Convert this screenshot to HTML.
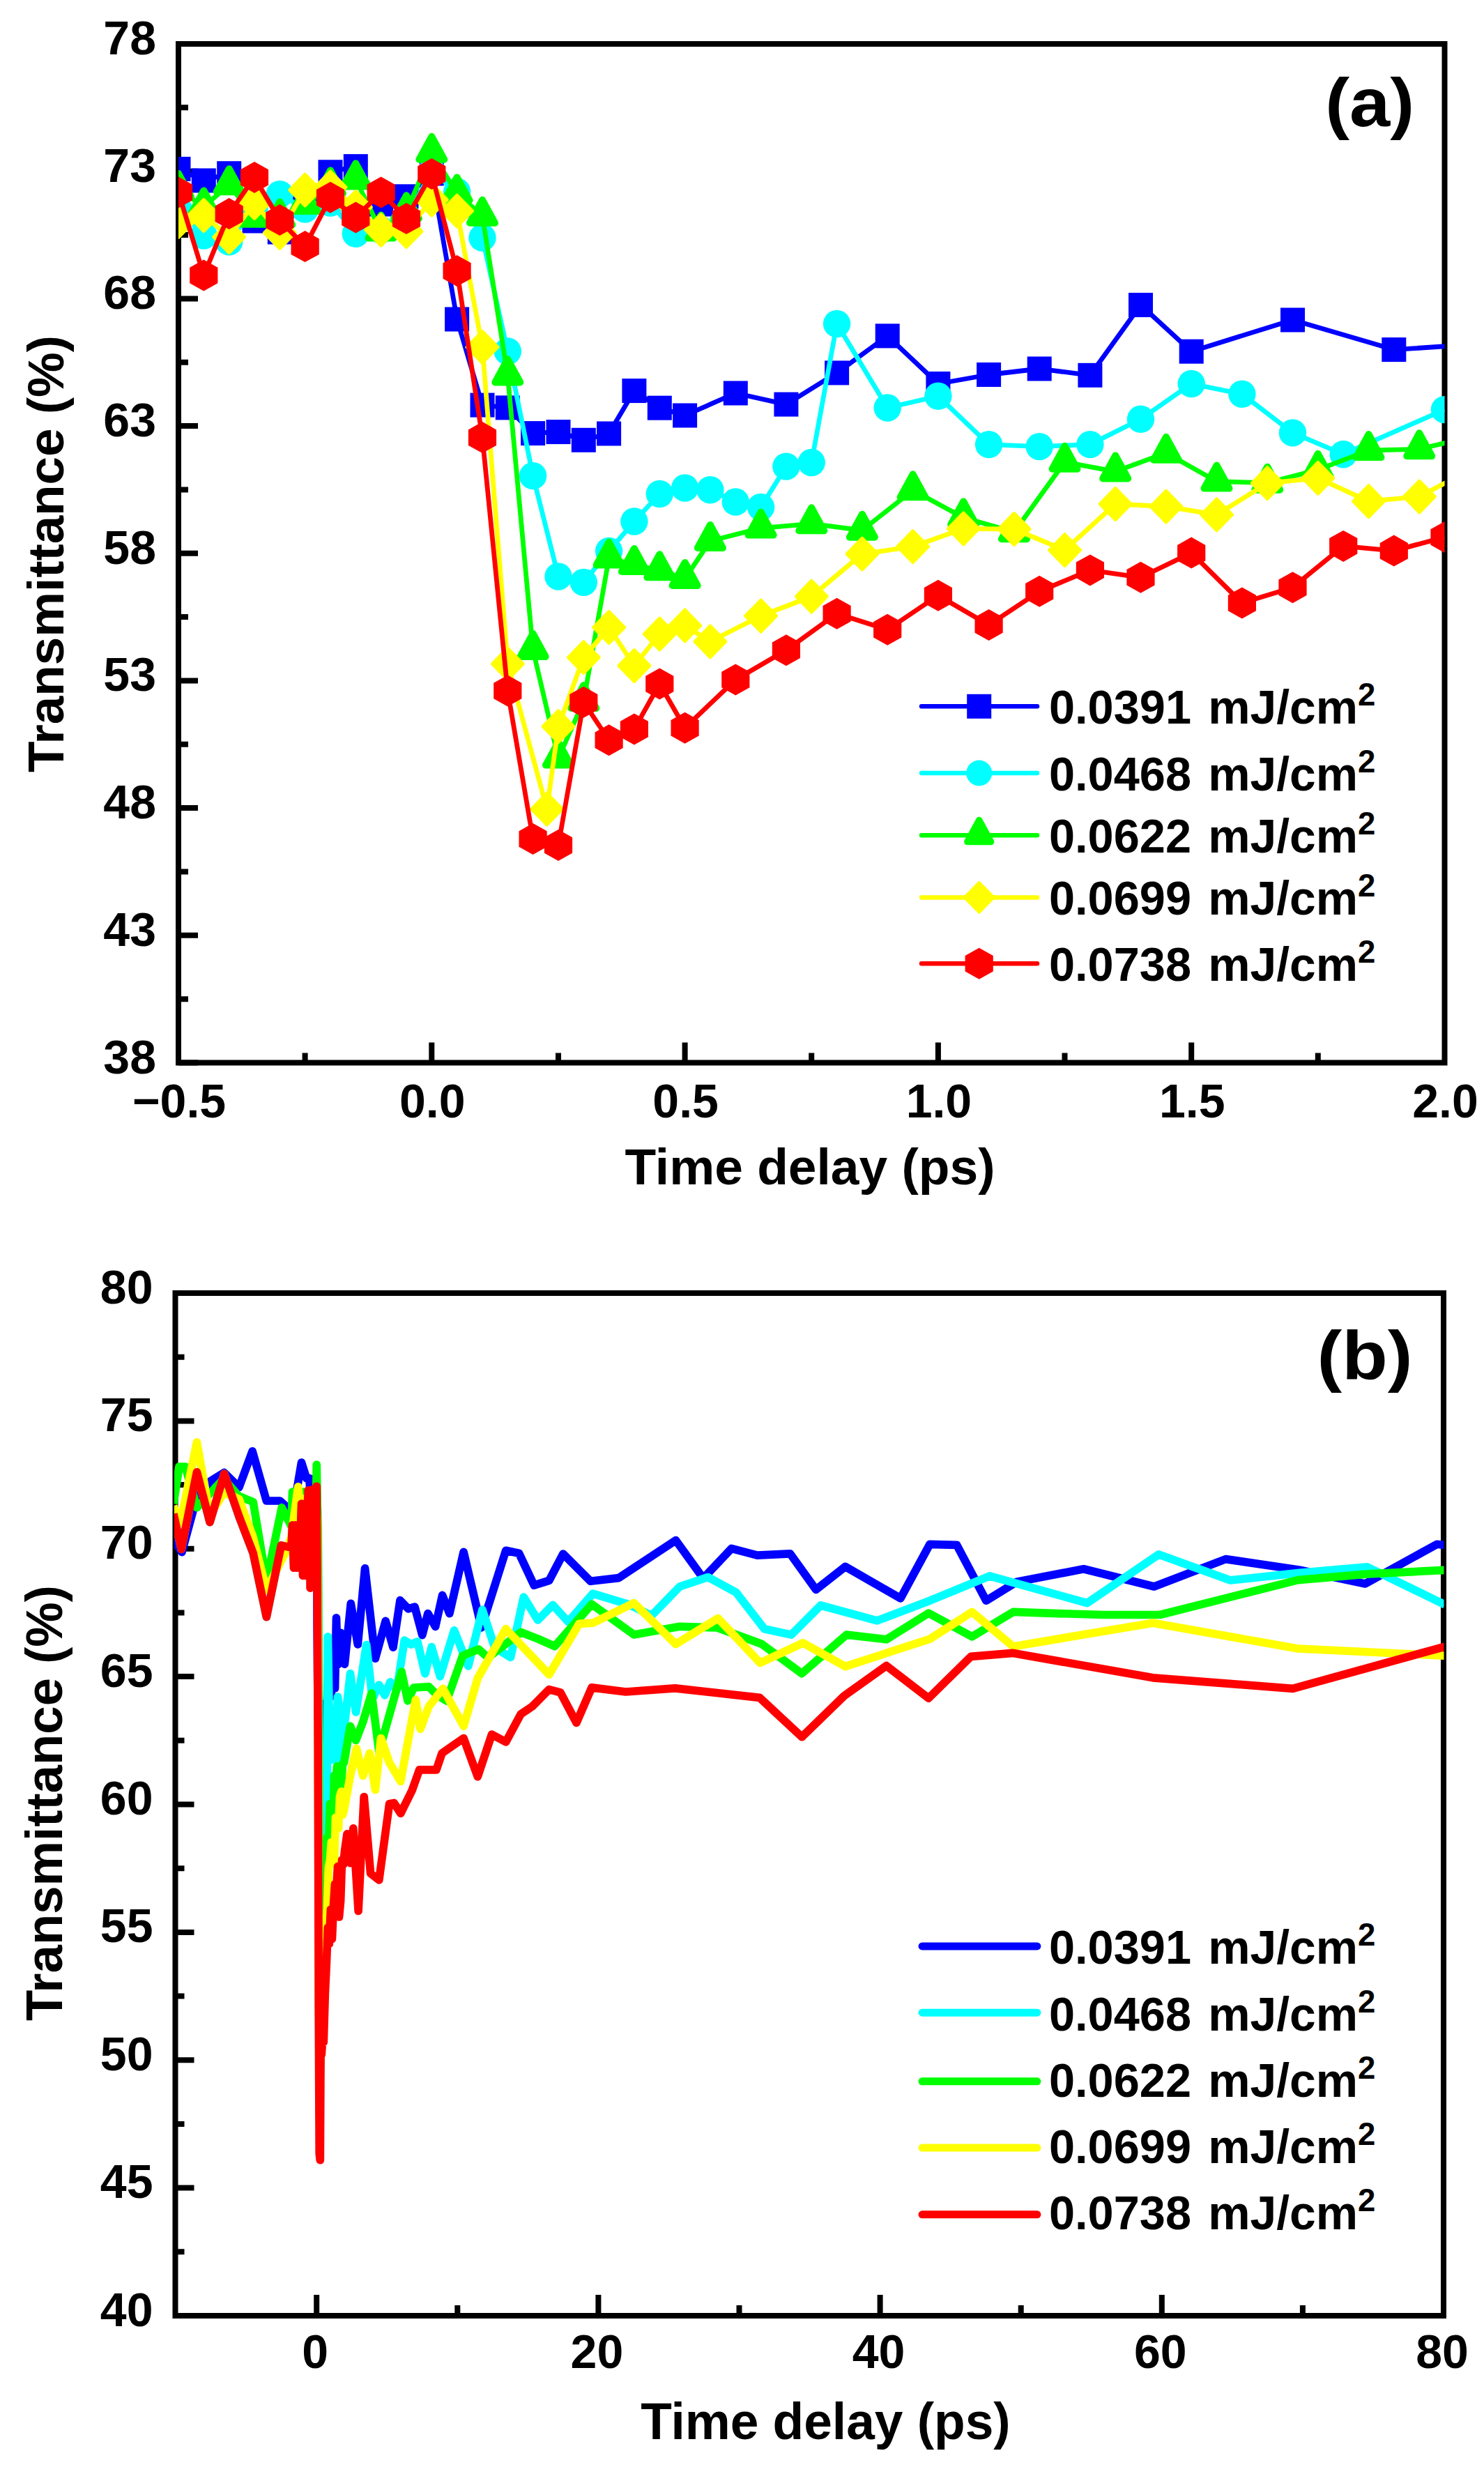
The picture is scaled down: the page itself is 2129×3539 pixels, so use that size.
<!DOCTYPE html><html><head><meta charset="utf-8"><title>Transmittance vs time delay</title><style>html,body{margin:0;padding:0;background:#fff}svg{display:block}</style></head><body><svg width="2129" height="3539" viewBox="0 0 2129 3539" font-family="'Liberation Sans', sans-serif" font-weight="bold" fill="#000">
<rect width="2129" height="3539" fill="#fff"/>
<defs><clipPath id="ca"><rect x="256" y="63" width="1816.5" height="1461.5"/></clipPath><clipPath id="cb"><rect x="250" y="1855" width="1821.5" height="1467"/></clipPath></defs>
<g id="panel-a">
<rect x="256" y="63" width="1816.5" height="1461.5" fill="none" stroke="#000" stroke-width="8"/>
<path d="M256 63h28M256 245.7h28M256 428.4h28M256 611.1h28M256 793.8h28M256 976.4h28M256 1159.1h28M256 1341.8h28M256 1524.5h28M256 154.3h14M256 337h14M256 519.7h14M256 702.4h14M256 885.1h14M256 1067.8h14M256 1250.5h14M256 1433.2h14M619.3 1524.5v-29M982.6 1524.5v-29M1345.9 1524.5v-29M1709.2 1524.5v-29M437.6 1524.5v-14M801 1524.5v-14M1164.2 1524.5v-14M1527.5 1524.5v-14M1890.8 1524.5v-14" stroke="#000" stroke-width="8" fill="none"/>
<g clip-path="url(#ca)">
<path d="M256 242.4L292.3 259L328.7 248.7L365 317L401.3 333L437.6 287L474 246.8L510.3 238.6L546.6 293L583 281.8L619.3 249L655.6 458L692 581.1L728.3 584.9L764.6 621.6L801 619.6L837.3 631.3L873.6 622L909.9 560.6L946.3 585.2L982.6 596L1055.3 564L1127.9 580.1L1200.6 534.9L1273.2 481.9L1345.9 550.5L1418.6 537.5L1491.2 529L1563.9 538.3L1636.5 437.5L1709.2 504.2L1854.5 459L1999.8 501.6L2145.2 492" fill="none" stroke="#0000ff" stroke-width="6.8" stroke-linejoin="round" stroke-linecap="butt"/>
<rect x="238.5" y="224.9" width="35" height="35" fill="#0000ff"/>
<rect x="274.8" y="241.5" width="35" height="35" fill="#0000ff"/>
<rect x="311.2" y="231.2" width="35" height="35" fill="#0000ff"/>
<rect x="347.5" y="299.5" width="35" height="35" fill="#0000ff"/>
<rect x="383.8" y="315.5" width="35" height="35" fill="#0000ff"/>
<rect x="420.1" y="269.5" width="35" height="35" fill="#0000ff"/>
<rect x="456.5" y="229.3" width="35" height="35" fill="#0000ff"/>
<rect x="492.8" y="221.1" width="35" height="35" fill="#0000ff"/>
<rect x="529.1" y="275.5" width="35" height="35" fill="#0000ff"/>
<rect x="565.5" y="264.3" width="35" height="35" fill="#0000ff"/>
<rect x="601.8" y="231.5" width="35" height="35" fill="#0000ff"/>
<rect x="638.1" y="440.5" width="35" height="35" fill="#0000ff"/>
<rect x="674.5" y="563.6" width="35" height="35" fill="#0000ff"/>
<rect x="710.8" y="567.4" width="35" height="35" fill="#0000ff"/>
<rect x="747.1" y="604.1" width="35" height="35" fill="#0000ff"/>
<rect x="783.5" y="602.1" width="35" height="35" fill="#0000ff"/>
<rect x="819.8" y="613.8" width="35" height="35" fill="#0000ff"/>
<rect x="856.1" y="604.5" width="35" height="35" fill="#0000ff"/>
<rect x="892.4" y="543.1" width="35" height="35" fill="#0000ff"/>
<rect x="928.8" y="567.7" width="35" height="35" fill="#0000ff"/>
<rect x="965.1" y="578.5" width="35" height="35" fill="#0000ff"/>
<rect x="1037.8" y="546.5" width="35" height="35" fill="#0000ff"/>
<rect x="1110.4" y="562.6" width="35" height="35" fill="#0000ff"/>
<rect x="1183.1" y="517.4" width="35" height="35" fill="#0000ff"/>
<rect x="1255.7" y="464.4" width="35" height="35" fill="#0000ff"/>
<rect x="1328.4" y="533" width="35" height="35" fill="#0000ff"/>
<rect x="1401.1" y="520" width="35" height="35" fill="#0000ff"/>
<rect x="1473.7" y="511.5" width="35" height="35" fill="#0000ff"/>
<rect x="1546.4" y="520.8" width="35" height="35" fill="#0000ff"/>
<rect x="1619" y="420" width="35" height="35" fill="#0000ff"/>
<rect x="1691.7" y="486.7" width="35" height="35" fill="#0000ff"/>
<rect x="1837" y="441.5" width="35" height="35" fill="#0000ff"/>
<rect x="1982.3" y="484.1" width="35" height="35" fill="#0000ff"/>
<rect x="2127.7" y="474.5" width="35" height="35" fill="#0000ff"/>
<path d="M256 300L292.3 338L328.7 346.7L365 298L401.3 278.6L437.6 300L474 291L510.3 335.2L546.6 330L583 312L619.3 246L655.6 275L692 341L728.3 504L764.6 682.6L801 827L837.3 835.4L873.6 790.5L909.9 748L946.3 708.5L982.6 700L1018.9 702.8L1055.3 720L1091.6 727.5L1127.9 669.1L1164.2 663.5L1200.6 464.5L1273.2 585L1345.9 568.3L1418.6 637.6L1491.2 640.6L1563.9 637.6L1636.5 601.3L1709.2 550.5L1781.9 565.3L1854.5 620.9L1927.2 651.7L2072.5 587.6" fill="none" stroke="#00ffff" stroke-width="6.8" stroke-linejoin="round" stroke-linecap="butt"/>
<circle cx="256" cy="300" r="19.7" fill="#00ffff"/>
<circle cx="292.3" cy="338" r="19.7" fill="#00ffff"/>
<circle cx="328.7" cy="346.7" r="19.7" fill="#00ffff"/>
<circle cx="365" cy="298" r="19.7" fill="#00ffff"/>
<circle cx="401.3" cy="278.6" r="19.7" fill="#00ffff"/>
<circle cx="437.6" cy="300" r="19.7" fill="#00ffff"/>
<circle cx="474" cy="291" r="19.7" fill="#00ffff"/>
<circle cx="510.3" cy="335.2" r="19.7" fill="#00ffff"/>
<circle cx="546.6" cy="330" r="19.7" fill="#00ffff"/>
<circle cx="583" cy="312" r="19.7" fill="#00ffff"/>
<circle cx="619.3" cy="246" r="19.7" fill="#00ffff"/>
<circle cx="655.6" cy="275" r="19.7" fill="#00ffff"/>
<circle cx="692" cy="341" r="19.7" fill="#00ffff"/>
<circle cx="728.3" cy="504" r="19.7" fill="#00ffff"/>
<circle cx="764.6" cy="682.6" r="19.7" fill="#00ffff"/>
<circle cx="801" cy="827" r="19.7" fill="#00ffff"/>
<circle cx="837.3" cy="835.4" r="19.7" fill="#00ffff"/>
<circle cx="873.6" cy="790.5" r="19.7" fill="#00ffff"/>
<circle cx="909.9" cy="748" r="19.7" fill="#00ffff"/>
<circle cx="946.3" cy="708.5" r="19.7" fill="#00ffff"/>
<circle cx="982.6" cy="700" r="19.7" fill="#00ffff"/>
<circle cx="1018.9" cy="702.8" r="19.7" fill="#00ffff"/>
<circle cx="1055.3" cy="720" r="19.7" fill="#00ffff"/>
<circle cx="1091.6" cy="727.5" r="19.7" fill="#00ffff"/>
<circle cx="1127.9" cy="669.1" r="19.7" fill="#00ffff"/>
<circle cx="1164.2" cy="663.5" r="19.7" fill="#00ffff"/>
<circle cx="1200.6" cy="464.5" r="19.7" fill="#00ffff"/>
<circle cx="1273.2" cy="585" r="19.7" fill="#00ffff"/>
<circle cx="1345.9" cy="568.3" r="19.7" fill="#00ffff"/>
<circle cx="1418.6" cy="637.6" r="19.7" fill="#00ffff"/>
<circle cx="1491.2" cy="640.6" r="19.7" fill="#00ffff"/>
<circle cx="1563.9" cy="637.6" r="19.7" fill="#00ffff"/>
<circle cx="1636.5" cy="601.3" r="19.7" fill="#00ffff"/>
<circle cx="1709.2" cy="550.5" r="19.7" fill="#00ffff"/>
<circle cx="1781.9" cy="565.3" r="19.7" fill="#00ffff"/>
<circle cx="1854.5" cy="620.9" r="19.7" fill="#00ffff"/>
<circle cx="1927.2" cy="651.7" r="19.7" fill="#00ffff"/>
<circle cx="2072.5" cy="587.6" r="19.7" fill="#00ffff"/>
<path d="M256 272L292.3 296.5L328.7 265.2L365 311.7L401.3 312.6L437.6 293L474 267.5L510.3 257.4L546.6 331.6L583 303.3L619.3 218.8L655.6 277.4L692 309.8L728.3 538.4L764.6 932L801 1087.6L837.3 1006L873.6 800.6L909.9 810L946.3 818.2L982.6 830L1018.9 776L1091.6 757.6L1164.2 751.3L1236.9 760.7L1309.6 703.3L1382.2 742.4L1454.9 763.3L1527.5 662.8L1600.2 676.4L1672.9 649.8L1745.5 690.6L1818.2 692.7L1890.8 673.9L1963.5 646.1L2036.2 644.3L2108.8 627" fill="none" stroke="#00ff00" stroke-width="6.8" stroke-linejoin="round" stroke-linecap="butt"/>
<path d="M256 249L274 282L238 282Z" fill="#00ff00" stroke="#00ff00" stroke-width="10" stroke-linejoin="round"/>
<path d="M292.3 273.5L310.3 306.5L274.3 306.5Z" fill="#00ff00" stroke="#00ff00" stroke-width="10" stroke-linejoin="round"/>
<path d="M328.7 242.2L346.7 275.2L310.7 275.2Z" fill="#00ff00" stroke="#00ff00" stroke-width="10" stroke-linejoin="round"/>
<path d="M365 288.7L383 321.7L347 321.7Z" fill="#00ff00" stroke="#00ff00" stroke-width="10" stroke-linejoin="round"/>
<path d="M401.3 289.6L419.3 322.6L383.3 322.6Z" fill="#00ff00" stroke="#00ff00" stroke-width="10" stroke-linejoin="round"/>
<path d="M437.6 270L455.6 303L419.6 303Z" fill="#00ff00" stroke="#00ff00" stroke-width="10" stroke-linejoin="round"/>
<path d="M474 244.5L492 277.5L456 277.5Z" fill="#00ff00" stroke="#00ff00" stroke-width="10" stroke-linejoin="round"/>
<path d="M510.3 234.4L528.3 267.4L492.3 267.4Z" fill="#00ff00" stroke="#00ff00" stroke-width="10" stroke-linejoin="round"/>
<path d="M546.6 308.6L564.6 341.6L528.6 341.6Z" fill="#00ff00" stroke="#00ff00" stroke-width="10" stroke-linejoin="round"/>
<path d="M583 280.3L601 313.3L565 313.3Z" fill="#00ff00" stroke="#00ff00" stroke-width="10" stroke-linejoin="round"/>
<path d="M619.3 195.8L637.3 228.8L601.3 228.8Z" fill="#00ff00" stroke="#00ff00" stroke-width="10" stroke-linejoin="round"/>
<path d="M655.6 254.4L673.6 287.4L637.6 287.4Z" fill="#00ff00" stroke="#00ff00" stroke-width="10" stroke-linejoin="round"/>
<path d="M692 286.8L710 319.8L674 319.8Z" fill="#00ff00" stroke="#00ff00" stroke-width="10" stroke-linejoin="round"/>
<path d="M728.3 515.4L746.3 548.4L710.3 548.4Z" fill="#00ff00" stroke="#00ff00" stroke-width="10" stroke-linejoin="round"/>
<path d="M764.6 909L782.6 942L746.6 942Z" fill="#00ff00" stroke="#00ff00" stroke-width="10" stroke-linejoin="round"/>
<path d="M801 1064.6L819 1097.6L783 1097.6Z" fill="#00ff00" stroke="#00ff00" stroke-width="10" stroke-linejoin="round"/>
<path d="M837.3 983L855.3 1016L819.3 1016Z" fill="#00ff00" stroke="#00ff00" stroke-width="10" stroke-linejoin="round"/>
<path d="M873.6 777.6L891.6 810.6L855.6 810.6Z" fill="#00ff00" stroke="#00ff00" stroke-width="10" stroke-linejoin="round"/>
<path d="M909.9 787L927.9 820L891.9 820Z" fill="#00ff00" stroke="#00ff00" stroke-width="10" stroke-linejoin="round"/>
<path d="M946.3 795.2L964.3 828.2L928.3 828.2Z" fill="#00ff00" stroke="#00ff00" stroke-width="10" stroke-linejoin="round"/>
<path d="M982.6 807L1000.6 840L964.6 840Z" fill="#00ff00" stroke="#00ff00" stroke-width="10" stroke-linejoin="round"/>
<path d="M1018.9 753L1036.9 786L1000.9 786Z" fill="#00ff00" stroke="#00ff00" stroke-width="10" stroke-linejoin="round"/>
<path d="M1091.6 734.6L1109.6 767.6L1073.6 767.6Z" fill="#00ff00" stroke="#00ff00" stroke-width="10" stroke-linejoin="round"/>
<path d="M1164.2 728.3L1182.2 761.3L1146.2 761.3Z" fill="#00ff00" stroke="#00ff00" stroke-width="10" stroke-linejoin="round"/>
<path d="M1236.9 737.7L1254.9 770.7L1218.9 770.7Z" fill="#00ff00" stroke="#00ff00" stroke-width="10" stroke-linejoin="round"/>
<path d="M1309.6 680.3L1327.6 713.3L1291.6 713.3Z" fill="#00ff00" stroke="#00ff00" stroke-width="10" stroke-linejoin="round"/>
<path d="M1382.2 719.4L1400.2 752.4L1364.2 752.4Z" fill="#00ff00" stroke="#00ff00" stroke-width="10" stroke-linejoin="round"/>
<path d="M1454.9 740.3L1472.9 773.3L1436.9 773.3Z" fill="#00ff00" stroke="#00ff00" stroke-width="10" stroke-linejoin="round"/>
<path d="M1527.5 639.8L1545.5 672.8L1509.5 672.8Z" fill="#00ff00" stroke="#00ff00" stroke-width="10" stroke-linejoin="round"/>
<path d="M1600.2 653.4L1618.2 686.4L1582.2 686.4Z" fill="#00ff00" stroke="#00ff00" stroke-width="10" stroke-linejoin="round"/>
<path d="M1672.9 626.8L1690.9 659.8L1654.9 659.8Z" fill="#00ff00" stroke="#00ff00" stroke-width="10" stroke-linejoin="round"/>
<path d="M1745.5 667.6L1763.5 700.6L1727.5 700.6Z" fill="#00ff00" stroke="#00ff00" stroke-width="10" stroke-linejoin="round"/>
<path d="M1818.2 669.7L1836.2 702.7L1800.2 702.7Z" fill="#00ff00" stroke="#00ff00" stroke-width="10" stroke-linejoin="round"/>
<path d="M1890.8 650.9L1908.8 683.9L1872.8 683.9Z" fill="#00ff00" stroke="#00ff00" stroke-width="10" stroke-linejoin="round"/>
<path d="M1963.5 623.1L1981.5 656.1L1945.5 656.1Z" fill="#00ff00" stroke="#00ff00" stroke-width="10" stroke-linejoin="round"/>
<path d="M2036.2 621.3L2054.2 654.3L2018.2 654.3Z" fill="#00ff00" stroke="#00ff00" stroke-width="10" stroke-linejoin="round"/>
<path d="M2108.8 604L2126.8 637L2090.8 637Z" fill="#00ff00" stroke="#00ff00" stroke-width="10" stroke-linejoin="round"/>
<path d="M256 318L292.3 309L328.7 340L365 291L401.3 334L437.6 272.6L474 268.5L510.3 297L546.6 329.8L583 332L619.3 286.5L655.6 302.6L692 498L728.3 952.3L784.6 1160.7L801 1042.2L837.3 943.2L873.6 900L909.9 955L946.3 909.5L982.6 897.3L1018.9 920.3L1091.6 883.5L1164.2 855.7L1236.9 794.6L1309.6 784.2L1382.2 758.3L1454.9 759L1527.5 789.1L1600.2 723L1672.9 726.6L1745.5 738.4L1818.2 693.2L1890.8 685.8L1963.5 719.1L2036.2 712.5L2108.8 674" fill="none" stroke="#ffff00" stroke-width="6.8" stroke-linejoin="round" stroke-linecap="butt"/>
<path d="M256 295L278.5 318L256 341L233.5 318Z" fill="#ffff00" stroke="#ffff00" stroke-width="4" stroke-linejoin="round"/>
<path d="M292.3 286L314.8 309L292.3 332L269.8 309Z" fill="#ffff00" stroke="#ffff00" stroke-width="4" stroke-linejoin="round"/>
<path d="M328.7 317L351.2 340L328.7 363L306.2 340Z" fill="#ffff00" stroke="#ffff00" stroke-width="4" stroke-linejoin="round"/>
<path d="M365 268L387.5 291L365 314L342.5 291Z" fill="#ffff00" stroke="#ffff00" stroke-width="4" stroke-linejoin="round"/>
<path d="M401.3 311L423.8 334L401.3 357L378.8 334Z" fill="#ffff00" stroke="#ffff00" stroke-width="4" stroke-linejoin="round"/>
<path d="M437.6 249.6L460.1 272.6L437.6 295.6L415.1 272.6Z" fill="#ffff00" stroke="#ffff00" stroke-width="4" stroke-linejoin="round"/>
<path d="M474 245.5L496.5 268.5L474 291.5L451.5 268.5Z" fill="#ffff00" stroke="#ffff00" stroke-width="4" stroke-linejoin="round"/>
<path d="M510.3 274L532.8 297L510.3 320L487.8 297Z" fill="#ffff00" stroke="#ffff00" stroke-width="4" stroke-linejoin="round"/>
<path d="M546.6 306.8L569.1 329.8L546.6 352.8L524.1 329.8Z" fill="#ffff00" stroke="#ffff00" stroke-width="4" stroke-linejoin="round"/>
<path d="M583 309L605.5 332L583 355L560.5 332Z" fill="#ffff00" stroke="#ffff00" stroke-width="4" stroke-linejoin="round"/>
<path d="M619.3 263.5L641.8 286.5L619.3 309.5L596.8 286.5Z" fill="#ffff00" stroke="#ffff00" stroke-width="4" stroke-linejoin="round"/>
<path d="M655.6 279.6L678.1 302.6L655.6 325.6L633.1 302.6Z" fill="#ffff00" stroke="#ffff00" stroke-width="4" stroke-linejoin="round"/>
<path d="M692 475L714.5 498L692 521L669.5 498Z" fill="#ffff00" stroke="#ffff00" stroke-width="4" stroke-linejoin="round"/>
<path d="M728.3 929.3L750.8 952.3L728.3 975.3L705.8 952.3Z" fill="#ffff00" stroke="#ffff00" stroke-width="4" stroke-linejoin="round"/>
<path d="M784.6 1137.7L807.1 1160.7L784.6 1183.7L762.1 1160.7Z" fill="#ffff00" stroke="#ffff00" stroke-width="4" stroke-linejoin="round"/>
<path d="M801 1019.2L823.5 1042.2L801 1065.2L778.5 1042.2Z" fill="#ffff00" stroke="#ffff00" stroke-width="4" stroke-linejoin="round"/>
<path d="M837.3 920.2L859.8 943.2L837.3 966.2L814.8 943.2Z" fill="#ffff00" stroke="#ffff00" stroke-width="4" stroke-linejoin="round"/>
<path d="M873.6 877L896.1 900L873.6 923L851.1 900Z" fill="#ffff00" stroke="#ffff00" stroke-width="4" stroke-linejoin="round"/>
<path d="M909.9 932L932.4 955L909.9 978L887.4 955Z" fill="#ffff00" stroke="#ffff00" stroke-width="4" stroke-linejoin="round"/>
<path d="M946.3 886.5L968.8 909.5L946.3 932.5L923.8 909.5Z" fill="#ffff00" stroke="#ffff00" stroke-width="4" stroke-linejoin="round"/>
<path d="M982.6 874.3L1005.1 897.3L982.6 920.3L960.1 897.3Z" fill="#ffff00" stroke="#ffff00" stroke-width="4" stroke-linejoin="round"/>
<path d="M1018.9 897.3L1041.4 920.3L1018.9 943.3L996.4 920.3Z" fill="#ffff00" stroke="#ffff00" stroke-width="4" stroke-linejoin="round"/>
<path d="M1091.6 860.5L1114.1 883.5L1091.6 906.5L1069.1 883.5Z" fill="#ffff00" stroke="#ffff00" stroke-width="4" stroke-linejoin="round"/>
<path d="M1164.2 832.7L1186.8 855.7L1164.2 878.7L1141.8 855.7Z" fill="#ffff00" stroke="#ffff00" stroke-width="4" stroke-linejoin="round"/>
<path d="M1236.9 771.6L1259.4 794.6L1236.9 817.6L1214.4 794.6Z" fill="#ffff00" stroke="#ffff00" stroke-width="4" stroke-linejoin="round"/>
<path d="M1309.6 761.2L1332.1 784.2L1309.6 807.2L1287.1 784.2Z" fill="#ffff00" stroke="#ffff00" stroke-width="4" stroke-linejoin="round"/>
<path d="M1382.2 735.3L1404.7 758.3L1382.2 781.3L1359.7 758.3Z" fill="#ffff00" stroke="#ffff00" stroke-width="4" stroke-linejoin="round"/>
<path d="M1454.9 736L1477.4 759L1454.9 782L1432.4 759Z" fill="#ffff00" stroke="#ffff00" stroke-width="4" stroke-linejoin="round"/>
<path d="M1527.5 766.1L1550 789.1L1527.5 812.1L1505 789.1Z" fill="#ffff00" stroke="#ffff00" stroke-width="4" stroke-linejoin="round"/>
<path d="M1600.2 700L1622.7 723L1600.2 746L1577.7 723Z" fill="#ffff00" stroke="#ffff00" stroke-width="4" stroke-linejoin="round"/>
<path d="M1672.9 703.6L1695.4 726.6L1672.9 749.6L1650.4 726.6Z" fill="#ffff00" stroke="#ffff00" stroke-width="4" stroke-linejoin="round"/>
<path d="M1745.5 715.4L1768 738.4L1745.5 761.4L1723 738.4Z" fill="#ffff00" stroke="#ffff00" stroke-width="4" stroke-linejoin="round"/>
<path d="M1818.2 670.2L1840.7 693.2L1818.2 716.2L1795.7 693.2Z" fill="#ffff00" stroke="#ffff00" stroke-width="4" stroke-linejoin="round"/>
<path d="M1890.8 662.8L1913.3 685.8L1890.8 708.8L1868.3 685.8Z" fill="#ffff00" stroke="#ffff00" stroke-width="4" stroke-linejoin="round"/>
<path d="M1963.5 696.1L1986 719.1L1963.5 742.1L1941 719.1Z" fill="#ffff00" stroke="#ffff00" stroke-width="4" stroke-linejoin="round"/>
<path d="M2036.2 689.5L2058.7 712.5L2036.2 735.5L2013.7 712.5Z" fill="#ffff00" stroke="#ffff00" stroke-width="4" stroke-linejoin="round"/>
<path d="M2108.8 651L2131.3 674L2108.8 697L2086.3 674Z" fill="#ffff00" stroke="#ffff00" stroke-width="4" stroke-linejoin="round"/>
<path d="M256 276L292.3 395L328.7 306.6L365 254.4L401.3 315.6L437.6 353.6L474 283.2L510.3 312L546.6 276L583 313.6L619.3 249.4L655.6 388.5L692 627.6L728.3 991L764.6 1203.5L801 1212.5L837.3 1007.2L873.6 1061.8L909.9 1046L946.3 981L982.6 1044.2L1055.3 975L1127.9 932.8L1200.6 880.2L1273.2 903.2L1345.9 854.2L1418.6 896.5L1491.2 848.3L1563.9 817.9L1636.5 828.3L1709.2 793.1L1781.9 865L1854.5 842.7L1927.2 783.4L1999.8 790.1L2072.5 770.5" fill="none" stroke="#ff0000" stroke-width="6.8" stroke-linejoin="round" stroke-linecap="butt"/>
<path d="M256 253.5L276.1 264.8L276.1 287.2L256 298.5L235.9 287.2L235.9 264.8Z" fill="#ff0000"/>
<path d="M292.3 372.5L312.4 383.8L312.4 406.2L292.3 417.5L272.2 406.2L272.2 383.8Z" fill="#ff0000"/>
<path d="M328.7 284.1L348.8 295.4L348.8 317.9L328.7 329.1L308.6 317.9L308.6 295.4Z" fill="#ff0000"/>
<path d="M365 231.9L385.1 243.2L385.1 265.6L365 276.9L344.9 265.6L344.9 243.2Z" fill="#ff0000"/>
<path d="M401.3 293.1L421.4 304.4L421.4 326.9L401.3 338.1L381.2 326.9L381.2 304.4Z" fill="#ff0000"/>
<path d="M437.6 331.1L457.8 342.4L457.8 364.9L437.6 376.1L417.5 364.9L417.5 342.4Z" fill="#ff0000"/>
<path d="M474 260.7L494.1 271.9L494.1 294.4L474 305.7L453.9 294.4L453.9 271.9Z" fill="#ff0000"/>
<path d="M510.3 289.5L530.4 300.8L530.4 323.2L510.3 334.5L490.2 323.2L490.2 300.8Z" fill="#ff0000"/>
<path d="M546.6 253.5L566.7 264.8L566.7 287.2L546.6 298.5L526.5 287.2L526.5 264.8Z" fill="#ff0000"/>
<path d="M583 291.1L603.1 302.4L603.1 324.9L583 336.1L562.9 324.9L562.9 302.4Z" fill="#ff0000"/>
<path d="M619.3 226.9L639.4 238.2L639.4 260.6L619.3 271.9L599.2 260.6L599.2 238.2Z" fill="#ff0000"/>
<path d="M655.6 366L675.7 377.2L675.7 399.8L655.6 411L635.5 399.8L635.5 377.2Z" fill="#ff0000"/>
<path d="M692 605.1L712.1 616.4L712.1 638.9L692 650.1L671.9 638.9L671.9 616.4Z" fill="#ff0000"/>
<path d="M728.3 968.5L748.4 979.8L748.4 1002.2L728.3 1013.5L708.2 1002.2L708.2 979.8Z" fill="#ff0000"/>
<path d="M764.6 1181L784.7 1192.2L784.7 1214.8L764.6 1226L744.5 1214.8L744.5 1192.2Z" fill="#ff0000"/>
<path d="M801 1190L821.1 1201.2L821.1 1223.8L801 1235L780.9 1223.8L780.9 1201.2Z" fill="#ff0000"/>
<path d="M837.3 984.7L857.4 996L857.4 1018.5L837.3 1029.7L817.2 1018.5L817.2 996Z" fill="#ff0000"/>
<path d="M873.6 1039.3L893.7 1050.5L893.7 1073L873.6 1084.3L853.5 1073L853.5 1050.5Z" fill="#ff0000"/>
<path d="M909.9 1023.5L930 1034.8L930 1057.2L909.9 1068.5L889.8 1057.2L889.8 1034.8Z" fill="#ff0000"/>
<path d="M946.3 958.5L966.4 969.8L966.4 992.2L946.3 1003.5L926.2 992.2L926.2 969.8Z" fill="#ff0000"/>
<path d="M982.6 1021.7L1002.7 1033L1002.7 1055.5L982.6 1066.7L962.5 1055.5L962.5 1033Z" fill="#ff0000"/>
<path d="M1055.3 952.5L1075.4 963.8L1075.4 986.2L1055.3 997.5L1035.2 986.2L1035.2 963.8Z" fill="#ff0000"/>
<path d="M1127.9 910.3L1148 921.5L1148 944L1127.9 955.3L1107.8 944L1107.8 921.5Z" fill="#ff0000"/>
<path d="M1200.6 857.7L1220.7 869L1220.7 891.5L1200.6 902.7L1180.5 891.5L1180.5 869Z" fill="#ff0000"/>
<path d="M1273.2 880.7L1293.3 892L1293.3 914.5L1273.2 925.7L1253.1 914.5L1253.1 892Z" fill="#ff0000"/>
<path d="M1345.9 831.7L1366 843L1366 865.5L1345.9 876.7L1325.8 865.5L1325.8 843Z" fill="#ff0000"/>
<path d="M1418.6 874L1438.7 885.2L1438.7 907.8L1418.6 919L1398.5 907.8L1398.5 885.2Z" fill="#ff0000"/>
<path d="M1491.2 825.8L1511.3 837L1511.3 859.5L1491.2 870.8L1471.1 859.5L1471.1 837Z" fill="#ff0000"/>
<path d="M1563.9 795.4L1584 806.6L1584 829.1L1563.9 840.4L1543.8 829.1L1543.8 806.6Z" fill="#ff0000"/>
<path d="M1636.5 805.8L1656.6 817L1656.6 839.5L1636.5 850.8L1616.4 839.5L1616.4 817Z" fill="#ff0000"/>
<path d="M1709.2 770.6L1729.3 781.9L1729.3 804.4L1709.2 815.6L1689.1 804.4L1689.1 781.9Z" fill="#ff0000"/>
<path d="M1781.9 842.5L1802 853.8L1802 876.2L1781.9 887.5L1761.8 876.2L1761.8 853.8Z" fill="#ff0000"/>
<path d="M1854.5 820.2L1874.6 831.5L1874.6 854L1854.5 865.2L1834.4 854L1834.4 831.5Z" fill="#ff0000"/>
<path d="M1927.2 760.9L1947.3 772.1L1947.3 794.6L1927.2 805.9L1907.1 794.6L1907.1 772.1Z" fill="#ff0000"/>
<path d="M1999.8 767.6L2019.9 778.9L2019.9 801.4L1999.8 812.6L1979.7 801.4L1979.7 778.9Z" fill="#ff0000"/>
<path d="M2072.5 748L2092.6 759.2L2092.6 781.8L2072.5 793L2052.4 781.8L2052.4 759.2Z" fill="#ff0000"/>
</g>
<text x="224" y="78" font-size="68" text-anchor="end">78</text>
<text x="224" y="260.7" font-size="68" text-anchor="end">73</text>
<text x="224" y="443.4" font-size="68" text-anchor="end">68</text>
<text x="224" y="626.1" font-size="68" text-anchor="end">63</text>
<text x="224" y="808.8" font-size="68" text-anchor="end">58</text>
<text x="224" y="991.4" font-size="68" text-anchor="end">53</text>
<text x="224" y="1174.1" font-size="68" text-anchor="end">48</text>
<text x="224" y="1356.8" font-size="68" text-anchor="end">43</text>
<text x="224" y="1539.5" font-size="68" text-anchor="end">38</text>
<text x="257" y="1603" font-size="68" text-anchor="middle">−0.5</text>
<text x="620.3" y="1603" font-size="68" text-anchor="middle">0.0</text>
<text x="983.6" y="1603" font-size="68" text-anchor="middle">0.5</text>
<text x="1346.9" y="1603" font-size="68" text-anchor="middle">1.0</text>
<text x="1710.2" y="1603" font-size="68" text-anchor="middle">1.5</text>
<text x="2073.5" y="1603" font-size="68" text-anchor="middle">2.0</text>
<text x="1162" y="1699.3" font-size="73" text-anchor="middle" textLength="531" lengthAdjust="spacingAndGlyphs">Time delay (ps)</text>
<g transform="translate(90.8 794.5) rotate(-90)">
<text x="0" y="0" font-size="73" text-anchor="middle" textLength="627" lengthAdjust="spacingAndGlyphs">Transmittance (%)</text>
</g>
<text x="1965.2" y="181" font-size="98" text-anchor="middle" textLength="128" lengthAdjust="spacingAndGlyphs">(a)</text>
<path d="M1322 1013.3H1488" stroke="#0000ff" stroke-width="6.5" stroke-linecap="round"/>
<rect x="1387.2" y="995.8" width="35" height="35" fill="#0000ff"/>
<text y="1037.8" font-size="68"><tspan x="1505" textLength="204" lengthAdjust="spacingAndGlyphs">0.0391</tspan><tspan x="1714.4" textLength="233.6" lengthAdjust="spacingAndGlyphs"> mJ/cm</tspan><tspan x="1948" dy="-26" font-size="45.5">2</tspan></text>
<path d="M1322 1109H1488" stroke="#00ffff" stroke-width="6.5" stroke-linecap="round"/>
<g transform="translate(1404.7 1109) scale(0.94) translate(-1404.7 -1109)"><circle cx="1404.7" cy="1109" r="19.7" fill="#00ffff"/></g>
<text y="1133.6" font-size="68"><tspan x="1505" textLength="204" lengthAdjust="spacingAndGlyphs">0.0468</tspan><tspan x="1714.4" textLength="233.6" lengthAdjust="spacingAndGlyphs"> mJ/cm</tspan><tspan x="1948" dy="-26" font-size="45.5">2</tspan></text>
<path d="M1322 1198.2H1488" stroke="#00ff00" stroke-width="6.5" stroke-linecap="round"/>
<g transform="translate(1404.7 1198.2) scale(0.94) translate(-1404.7 -1198.2)"><path d="M1404.7 1175.2L1422.7 1208.2L1386.7 1208.2Z" fill="#00ff00" stroke="#00ff00" stroke-width="10" stroke-linejoin="round"/></g>
<text y="1223.2" font-size="68"><tspan x="1505" textLength="204" lengthAdjust="spacingAndGlyphs">0.0622</tspan><tspan x="1714.4" textLength="233.6" lengthAdjust="spacingAndGlyphs"> mJ/cm</tspan><tspan x="1948" dy="-26" font-size="45.5">2</tspan></text>
<path d="M1322 1287.4H1488" stroke="#ffff00" stroke-width="6.5" stroke-linecap="round"/>
<g transform="translate(1404.7 1287.4) scale(0.94) translate(-1404.7 -1287.4)"><path d="M1404.7 1264.4L1427.2 1287.4L1404.7 1310.4L1382.2 1287.4Z" fill="#ffff00" stroke="#ffff00" stroke-width="4" stroke-linejoin="round"/></g>
<text y="1311.9" font-size="68"><tspan x="1505" textLength="204" lengthAdjust="spacingAndGlyphs">0.0699</tspan><tspan x="1714.4" textLength="233.6" lengthAdjust="spacingAndGlyphs"> mJ/cm</tspan><tspan x="1948" dy="-26" font-size="45.5">2</tspan></text>
<path d="M1322 1382.2H1488" stroke="#ff0000" stroke-width="6.5" stroke-linecap="round"/>
<path d="M1404.7 1359.7L1424.8 1371L1424.8 1393.5L1404.7 1404.7L1384.6 1393.5L1384.6 1371Z" fill="#ff0000"/>
<text y="1407.2" font-size="68"><tspan x="1505" textLength="204" lengthAdjust="spacingAndGlyphs">0.0738</tspan><tspan x="1714.4" textLength="233.6" lengthAdjust="spacingAndGlyphs"> mJ/cm</tspan><tspan x="1948" dy="-26" font-size="45.5">2</tspan></text>
</g>
<g id="panel-b">
<rect x="251.5" y="1855" width="1819.5" height="1467" fill="none" stroke="#000" stroke-width="8"/>
<path d="M251.5 1855h27M251.5 2038.4h27M251.5 2221.8h27M251.5 2405.1h27M251.5 2588.5h27M251.5 2771.9h27M251.5 2955.2h27M251.5 3138.6h27M251.5 3322h27M251.5 1946.7h13M251.5 2130.1h13M251.5 2313.4h13M251.5 2496.8h13M251.5 2680.2h13M251.5 2863.6h13M251.5 3046.9h13M251.5 3230.3h13M454.2 3322v-30M858.4 3322v-30M1262.6 3322v-30M1666.8 3322v-30M656.3 3322v-15M1060.5 3322v-15M1464.7 3322v-15M1868.9 3322v-15" stroke="#000" stroke-width="8" fill="none"/>
<g clip-path="url(#cb)">
<path d="M248.9 2208.8L261 2226.6L282.4 2147.3L302.3 2124.4L321.7 2112.6L343 2133.6L362.1 2081.8L382.3 2153L401.7 2153L420.3 2170L432.5 2098L439.7 2120.7L444.1 2120.7L444.1 2124.9L445.1 2141.6L446.1 2131.3L447.1 2199.8L448.1 2215.9L449.1 2169.7L450.2 2129.3L451.2 2121.1L452.2 2175.7L453.2 2164.5L454.2 2131.6L455.2 2341.3L456.2 2464.9L457.2 2468.7L458.2 2505.6L459.3 2503.5L460.3 2515.3L461.3 2506L462.3 2444.3L463.3 2469L464.3 2479.9L466.3 2447.7L468.3 2463.9L470.4 2418.5L472.4 2365.3L474.4 2434.2L476.4 2421.1L478.5 2412.6L480.5 2421.9L482.5 2320.8L484.5 2387.7L488.6 2342.3L492.6 2385.1L494.4 2387.3L503.3 2300.3L513.3 2359L523.6 2249.9L538.4 2379.2L553.2 2325.3L564 2363.1L574 2295.7L585.6 2307.8L595 2305.1L605.8 2345.6L613.9 2314.6L624.6 2333.4L634.6 2288.4L644.9 2314.6L665.1 2226.4L690.7 2334.8L725.7 2224.3L744.6 2228.3L766.1 2274.1L787.7 2267.4L807.9 2229.1L847.2 2268.3L887.6 2263.6L969.5 2209.6L1008.9 2264.2L1049.3 2221.4L1086.4 2231.2L1133.6 2228.9L1170.6 2280.4L1212.7 2247.4L1291.9 2292.9L1333.9 2215.4L1372.7 2216.4L1414.8 2296.2L1458.6 2269.3L1554.6 2250.8L1655.7 2276L1758.4 2236.6L1864.8 2252.3L1958.7 2271.9L2061.4 2215.3L2072.9 2216.4" fill="none" stroke="#0000ff" stroke-width="11.7" stroke-linejoin="round" stroke-linecap="butt"/>
<path d="M248.9 2171.6L260.2 2222.4L282.4 2111.8L301.1 2183.7L321.7 2114.2L343 2175.6L363.2 2228.2L382.3 2319.6L403.4 2216.9L417.9 2220.1L419.5 2195L421.5 2245L423.5 2195L425.6 2245L427.6 2195L429.6 2245L432.5 2170L434.5 2250L436.5 2170L438.6 2250L440.6 2170L442.6 2250L444.1 2182.7L445.1 2220.9L446.1 2229.6L447.1 2180.7L448.1 2161.3L449.1 2182.7L450.2 2173.7L451.2 2218.1L452.2 2212.9L453.2 2194.8L454.2 2128.5L455.2 2157.7L456.2 2223.9L457.2 2387.5L458.2 2566.8L459.3 2711.7L460.3 2720.2L461.3 2675.1L462.3 2632.4L463.3 2592.8L464.3 2584.3L465.3 2587.1L466.3 2604.3L467.3 2611.9L468.3 2553.2L469.4 2547.6L470.4 2347.9L472.4 2468.8L474.4 2452.1L476.4 2521.6L478.5 2524.6L480.5 2521.6L482.5 2485.2L484.5 2434.2L486.5 2449L488.6 2504.9L490.6 2535.8L494.6 2471.4L502.5 2400.8L510.6 2456.1L525.7 2359.6L534.3 2437.2L543.8 2417L551.9 2431.8L559.9 2412.9L569.4 2423.7L580.2 2353.1L589.6 2359L599 2355L609.8 2400.8L619.2 2362.5L631.4 2404.9L651.6 2338.8L671.8 2390L692 2309.2L709.8 2363.6L732.5 2377.4L751.3 2291.1L771.5 2324L793.1 2302.4L815.2 2326.6L850.5 2286.1L901.1 2301.3L934.8 2317.5L975.2 2276L1015.6 2262.5L1056.1 2284.4L1096.5 2336.7L1135.2 2345.1L1177.4 2303L1258.2 2324.9L1333.9 2296.2L1419.8 2260.9L1559.6 2299.6L1662.4 2229.9L1765.2 2266.9L1861.9 2256.6L1961.6 2247.9L2072.9 2302" fill="none" stroke="#00ffff" stroke-width="11.7" stroke-linejoin="round" stroke-linecap="butt"/>
<path d="M248.9 2157L257 2104L265.9 2104L282.4 2162.7L320.9 2121.5L343 2146.5L363.2 2154.6L382.3 2268.6L404.2 2162.7L417.9 2189.4L419.5 2140L421.5 2215L423.5 2140L425.6 2215L427.6 2140L429.6 2215L431.6 2140L433.6 2215L435.7 2140L437.7 2215L439.7 2140L441.7 2215L443.7 2140L444.1 2154.6L445.1 2179.2L446.1 2147.8L447.1 2194.5L448.1 2195.4L449.1 2175.7L450.2 2150.1L451.2 2140L452.2 2214.5L453.2 2186.1L454.2 2101.2L455.2 2160.1L456.2 2192.6L457.2 2422L458.2 2817.1L459.3 2973.3L460.3 2891.4L461.3 2685.2L462.3 2694.7L463.3 2702.9L464.3 2714.7L465.3 2660.5L467.3 2642.1L469.4 2635.7L471.4 2645.2L473.4 2587.6L475.4 2626.8L477.4 2647.8L479.5 2546.9L481.5 2560.6L483.5 2533.9L485.5 2574.8L487.5 2576.9L489.6 2558.1L491.6 2530.1L493.6 2528.3L502.5 2476.3L510.6 2496.5L520.9 2469.5L533 2429.1L543.8 2512.7L576.1 2398.1L585 2439.9L593.6 2421L615.2 2419.7L627.3 2431.8L640.8 2439.9L663.7 2375.2L686.6 2365.8L700.1 2377.9L747.3 2341.5L771.5 2350.9L795.8 2361.7L848.9 2301.3L909.5 2345.1L975.2 2333.3L1029.1 2335L1093.1 2358.6L1150.4 2400.7L1214.4 2345.1L1271.7 2351.8L1332.2 2314.1L1394.6 2347.8L1453.5 2312.4L1502.4 2314.1L1583.2 2316.5L1664.1 2316.5L1861.9 2266.7L1960.2 2258.1L2072.9 2252.3" fill="none" stroke="#00ff00" stroke-width="11.7" stroke-linejoin="round" stroke-linecap="butt"/>
<path d="M248.9 2160.3L258.6 2185.3L282.4 2068.9L301.1 2173.2L321.7 2140.9L343 2150.6L363.2 2205.6L382.3 2280.8L409.8 2226.6L417.9 2205.6L427.6 2132.8L429.5 2150L431.5 2230L433.5 2150L435.6 2230L437.6 2150L439.6 2230L441.6 2150L443.6 2230L444.1 2200.8L445.1 2191.8L446.1 2222.9L447.1 2173.7L448.1 2216.9L449.1 2155.2L450.2 2151.1L451.2 2179.7L452.2 2212.7L453.2 2214.9L454.2 2169.2L455.2 2185.4L456.2 2381.5L457.2 2837.5L458.8 3046.7L459.3 2927.7L460.3 2828.4L461.3 2785L462.3 2840.2L463.3 2794.5L464.3 2782.3L465.3 2805.4L467.3 2768.4L469.4 2740.5L471.4 2679.2L473.4 2668.8L475.4 2642.8L477.4 2643.5L479.5 2673.7L481.5 2607.3L483.5 2611L485.5 2622.8L487.5 2577.4L489.6 2570L491.6 2603.4L493.6 2596.8L502.5 2547.4L511.4 2508.3L520.9 2547.4L530.3 2515L538.4 2567.6L546.5 2493.5L558.6 2528.5L574.8 2555.5L585.6 2496.2L596.3 2438.5L603.1 2480.3L615.2 2448L635.4 2422.4L665.1 2476.3L685.3 2407.5L725.7 2336.7L787.7 2402.2L830.8 2329.4L850.5 2328.2L909.5 2299.6L969.5 2358.6L1030.1 2321.5L1090.4 2385.5L1152.1 2356.9L1212.7 2390.6L1333.9 2351.2L1394.6 2312.4L1453.5 2361.9L1654 2328.2L1861.9 2365L2072.9 2375.1" fill="none" stroke="#ffff00" stroke-width="11.7" stroke-linejoin="round" stroke-linecap="butt"/>
<path d="M248.9 2171.6L260.2 2222.4L282.4 2111.8L301.1 2183.7L321.7 2114.2L343 2175.6L363.2 2228.2L382.3 2319.6L403.4 2216.9L417.9 2220.1L419.5 2187.8L421.5 2249.2L423.5 2187.8L425.6 2249.2L427.6 2187.8L429.6 2249.2L432.5 2157.2L434.5 2260.4L436.5 2157.2L438.6 2260.4L442.2 2137.8L444.1 2158.7L445.1 2278.1L446.1 2189.4L447.1 2137L448.1 2198.4L449.1 2236.5L450.2 2165.9L451.2 2194.8L452.2 2158.7L453.2 2196.4L454.2 2132L455.2 2271.6L456.2 2511.6L457.2 2876.3L458.2 3089.6L459.3 3098.7L460.3 2892.6L461.3 2947.4L462.3 2931.6L463.3 2866.3L464.3 2929.7L466.3 2860.3L468.3 2817.9L470.4 2765.1L472.4 2788.2L474.4 2739L476.4 2781.5L478.5 2733.1L480.5 2702.6L482.5 2713L484.5 2677.7L486.5 2749.9L488.6 2727.5L490.6 2668L492.6 2674.7L494.6 2655L498 2630.9L502.5 2672.7L506.8 2622.9L514.1 2741.5L522.2 2577.6L531.6 2687.5L543.8 2697L558.6 2587.8L565.3 2586.5L574.8 2601.3L590.9 2568.9L601.7 2538.8L626 2538.8L634.1 2515L665.1 2493.5L685.3 2548.7L705.5 2488.1L725.7 2498.9L747.3 2458.8L763.5 2448L787.7 2423.7L803.9 2427.8L827 2471.4L848.9 2420.9L897.7 2427L968.5 2421.9L1089.8 2435.4L1150.4 2491.7L1211.1 2432.7L1271.7 2389.6L1332.2 2436.1L1392.9 2376.4L1453.5 2371.4L1654 2406.8L1854.7 2422.3L2072.9 2362.1" fill="none" stroke="#ff0000" stroke-width="11.7" stroke-linejoin="round" stroke-linecap="butt"/>
</g>
<text x="219.5" y="1869.5" font-size="68" text-anchor="end">80</text>
<text x="219.5" y="2052.9" font-size="68" text-anchor="end">75</text>
<text x="219.5" y="2236.2" font-size="68" text-anchor="end">70</text>
<text x="219.5" y="2419.6" font-size="68" text-anchor="end">65</text>
<text x="219.5" y="2603" font-size="68" text-anchor="end">60</text>
<text x="219.5" y="2786.4" font-size="68" text-anchor="end">55</text>
<text x="219.5" y="2969.8" font-size="68" text-anchor="end">50</text>
<text x="219.5" y="3153.1" font-size="68" text-anchor="end">45</text>
<text x="219.5" y="3336.5" font-size="68" text-anchor="end">40</text>
<text x="452.2" y="3396.5" font-size="68" text-anchor="middle">0</text>
<text x="856.4" y="3396.5" font-size="68" text-anchor="middle">20</text>
<text x="1260.6" y="3396.5" font-size="68" text-anchor="middle">40</text>
<text x="1664.8" y="3396.5" font-size="68" text-anchor="middle">60</text>
<text x="2069" y="3396.5" font-size="68" text-anchor="middle">80</text>
<text x="1184.4" y="3499.4" font-size="73.5" text-anchor="middle" textLength="530.5" lengthAdjust="spacingAndGlyphs">Time delay (ps)</text>
<g transform="translate(89.4 2586.5) rotate(-90)">
<text x="0" y="0" font-size="74.5" text-anchor="middle" textLength="625" lengthAdjust="spacingAndGlyphs">Transmittance (%)</text>
</g>
<text x="1958" y="1978" font-size="99" text-anchor="middle" textLength="137" lengthAdjust="spacingAndGlyphs">(b)</text>
<path d="M1323 2791.9H1487.9" stroke="#0000ff" stroke-width="11" stroke-linecap="round"/>
<text y="2816.9" font-size="68"><tspan x="1505" textLength="204" lengthAdjust="spacingAndGlyphs">0.0391</tspan><tspan x="1714.4" textLength="233.6" lengthAdjust="spacingAndGlyphs"> mJ/cm</tspan><tspan x="1948" dy="-26" font-size="45.5">2</tspan></text>
<path d="M1323 2887.2H1487.9" stroke="#00ffff" stroke-width="11" stroke-linecap="round"/>
<text y="2912.6" font-size="68"><tspan x="1505" textLength="204" lengthAdjust="spacingAndGlyphs">0.0468</tspan><tspan x="1714.4" textLength="233.6" lengthAdjust="spacingAndGlyphs"> mJ/cm</tspan><tspan x="1948" dy="-26" font-size="45.5">2</tspan></text>
<path d="M1323 2985.8H1487.9" stroke="#00ff00" stroke-width="11" stroke-linecap="round"/>
<text y="3008" font-size="68"><tspan x="1505" textLength="204" lengthAdjust="spacingAndGlyphs">0.0622</tspan><tspan x="1714.4" textLength="233.6" lengthAdjust="spacingAndGlyphs"> mJ/cm</tspan><tspan x="1948" dy="-26" font-size="45.5">2</tspan></text>
<path d="M1323 3081H1487.9" stroke="#ffff00" stroke-width="11" stroke-linecap="round"/>
<text y="3103.2" font-size="68"><tspan x="1505" textLength="204" lengthAdjust="spacingAndGlyphs">0.0699</tspan><tspan x="1714.4" textLength="233.6" lengthAdjust="spacingAndGlyphs"> mJ/cm</tspan><tspan x="1948" dy="-26" font-size="45.5">2</tspan></text>
<path d="M1323 3176.8H1487.9" stroke="#ff0000" stroke-width="11" stroke-linecap="round"/>
<text y="3198" font-size="68"><tspan x="1505" textLength="204" lengthAdjust="spacingAndGlyphs">0.0738</tspan><tspan x="1714.4" textLength="233.6" lengthAdjust="spacingAndGlyphs"> mJ/cm</tspan><tspan x="1948" dy="-26" font-size="45.5">2</tspan></text>
</g>
</svg></body></html>
